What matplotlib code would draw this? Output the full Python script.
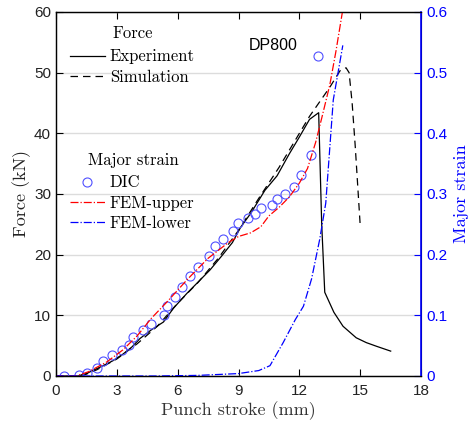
import matplotlib
matplotlib.use("Agg")
import matplotlib.pyplot as plt
from matplotlib.lines import Line2D

# Force curves (kN) vs punch stroke (mm)
exp_x = [0, 1.1, 1.5, 2.2, 2.8, 3.3, 3.75, 4.15, 4.7, 5.3, 5.8, 6.45, 7.1, 7.6, 8.15, 8.7,
         9.1, 9.6, 10.3, 10.9, 11.5, 12.0, 12.5, 12.95, 13.1, 13.25, 13.7, 14.15, 14.8,
         15.3, 15.8, 16.5]
exp_f = [0, 0, 0.4, 1.5, 2.5, 3.6, 4.8, 6.2, 7.6, 8.9, 11.2, 13.6, 15.8, 17.5, 19.7, 22.0,
         24.5, 26.8, 30.6, 33.0, 36.6, 39.4, 42.3, 43.4, 25.0, 13.8, 10.5, 8.2, 6.3,
         5.5, 4.9, 4.1]

sim_x = [0, 1.0, 1.5, 2.0, 3.0, 4.0, 5.0, 6.0, 7.0, 8.0, 9.0, 10.0, 11.0, 12.0, 12.5,
         13.0, 13.5, 14.0, 14.3, 14.45, 14.6, 14.75, 15.0]
sim_f = [0, 0, 0.3, 1.0, 2.8, 5.3, 8.2, 12.0, 15.4, 19.4, 24.0, 29.3, 34.4, 40.0, 42.8,
         45.2, 47.6, 50.3, 50.8, 50.0, 45.0, 38.0, 24.7]

# Major strain
dic_x = [0.41, 1.15, 1.51, 2.0, 2.33, 2.76, 3.25, 3.58, 3.78, 4.31, 4.67, 5.31, 5.49,
         5.85, 6.23, 6.62, 7.0, 7.53, 7.86, 8.22, 8.72, 8.95, 9.45, 9.83, 10.12, 10.65,
         10.91, 11.31, 11.75, 12.08, 12.55, 12.92]
dic_e = [0.0, 0.001, 0.0045, 0.014, 0.025, 0.034, 0.043, 0.051, 0.064, 0.075, 0.086,
         0.101, 0.115, 0.131, 0.147, 0.165, 0.180, 0.198, 0.214, 0.225, 0.239, 0.252,
         0.260, 0.267, 0.277, 0.282, 0.291, 0.300, 0.311, 0.332, 0.364, 0.528]

up_x = [0, 1.0, 1.6, 2.5, 3.3, 4.0, 4.7, 5.5, 6.5, 7.5, 8.5, 9.0, 9.6, 10.1, 10.5, 11.0,
        11.5, 12.0, 12.4, 12.8, 13.1, 13.5, 13.8, 14.12, 14.3]
up_e = [0, 0, 0.007, 0.023, 0.043, 0.066, 0.095, 0.123, 0.160, 0.194, 0.220, 0.230,
        0.236, 0.246, 0.264, 0.278, 0.295, 0.318, 0.342, 0.385, 0.425, 0.48, 0.535, 0.60,
        0.63]

low_x = [0, 5.0, 7.0, 9.0, 10.0, 10.55, 11.2, 11.8, 12.2, 12.6, 13.0, 13.3, 13.67, 14.14]
low_e = [0, 0, 0.001, 0.004, 0.009, 0.017, 0.055, 0.093, 0.115, 0.16, 0.225, 0.285,
         0.455, 0.545]

x_ticks = [0, 3, 6, 9, 12, 15, 18]
f_ticks = [0, 10, 20, 30, 40, 50, 60]
e_ticks = [0, 0.1, 0.2, 0.3, 0.4, 0.5, 0.6]
e_labels = ["0", "0.1", "0.2", "0.3", "0.4", "0.5", "0.6"]

serif = "cmr10"
sans = "Liberation Sans"
blue = "#0000ff"
dic_col = "#5050ff"

fig = plt.figure(figsize=(4.7, 4.28), dpi=100)
ax = fig.add_axes([0.119, 0.1215, 0.777, 0.8505])
ax2 = ax.twinx()

ax.plot(exp_x, exp_f, color="k", lw=0.9, ls="-")
ax.plot(sim_x, sim_f, color="k", lw=0.9, ls=(0, (6, 4)))
ax2.plot(dic_x, dic_e, ls="none", marker="o", ms=6.5, mfc="none", mec=dic_col, mew=0.8)
ax2.plot(up_x, up_e, color="red", lw=0.9, ls="-.")
ax2.plot(low_x, low_e, color=blue, lw=0.9, ls="-.")

ax.set_xlim(0, 18)
ax.set_ylim(0, 60)
ax2.set_ylim(0, 0.6)
ax.set_xticks(x_ticks)
ax.set_yticks(f_ticks)
ax2.set_yticks(e_ticks, labels=e_labels)
ax.yaxis.grid(True, color="#dcdcdc", lw=1)
ax.set_axisbelow(True)

for a in (ax, ax2):
    a.tick_params(direction="in", length=5, width=0.8, labelsize=11)
    for lab in a.get_xticklabels() + a.get_yticklabels():
        lab.set_fontfamily(sans)
ax.tick_params(top=True, labelcolor="#222222")
ax.tick_params(axis="x", pad=6)
ax2.tick_params(axis="y", colors=blue)
ax2.spines["right"].set_color(blue)
ax2.spines["right"].set_linewidth(1.2)
for s in ("left", "bottom", "top"):
    ax.spines[s].set_linewidth(1.0)
    ax.spines[s].set_color("#222222")

ax.set_xlabel("Punch stroke (mm)", fontfamily=serif, fontsize=13, color="#333333",
              labelpad=2)
ax.set_ylabel("Force (kN)", fontfamily=serif, fontsize=13, color="#222222", labelpad=2)
ax2.set_ylabel("Major strain", fontfamily=serif, fontsize=13, color=blue, labelpad=5)

ax2.text(9.5, 54.5 / 100, "DP800", fontfamily=sans, fontsize=11.5, va="center", ha="left")

# legend group titles
ax2.text(0.211, 0.942, "Force", transform=ax2.transAxes, fontfamily=serif, fontsize=12,
         ha="center", va="center")
ax2.text(0.211, 0.593, "Major strain", transform=ax2.transAxes, fontfamily=serif,
         fontsize=12, ha="center", va="center")

leg_kw = dict(loc="upper left", frameon=False, handlelength=2.1, handletextpad=0.3,
              labelspacing=0.3, borderaxespad=0, borderpad=0,
              prop={"family": serif, "size": 12})
h1 = [Line2D([], [], color="k", lw=0.9, ls="-"),
      Line2D([], [], color="k", lw=0.9, ls=(0, (6, 4)))]
leg1 = ax2.legend(h1, ["Experiment", "Simulation"], bbox_to_anchor=(0.038, 0.898), **leg_kw)
ax2.add_artist(leg1)
h2 = [Line2D([], [], ls="none", marker="o", ms=6.5, mfc="none", mec=dic_col, mew=0.8),
      Line2D([], [], color="red", lw=0.9, ls="-."),
      Line2D([], [], color=blue, lw=0.9, ls="-.")]
ax2.legend(h2, ["DIC", "FEM-upper", "FEM-lower"], bbox_to_anchor=(0.038, 0.552), **leg_kw)

fig.savefig("out.png", dpi=100)
